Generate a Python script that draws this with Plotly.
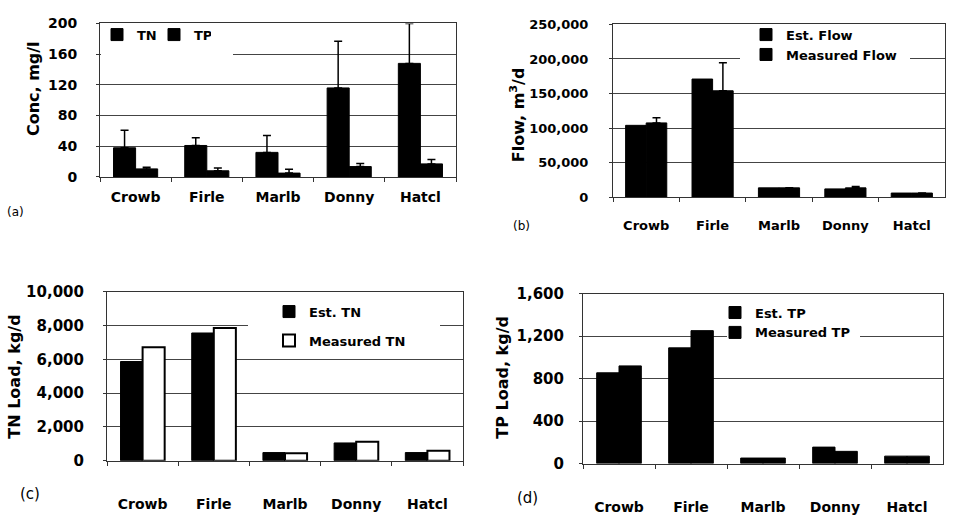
import plotly.graph_objects as go

sites = ["Crowb", "Firle", "Marlb", "Donny", "Hatcl"]

# (a) concentrations, mg/l
tn_conc = [38, 41, 32, 116, 148]
tn_conc_err = [23, 10, 22, 61, 52]
tp_conc = [10.5, 8, 5, 13.5, 17]
tp_conc_err = [2, 3.5, 5, 4, 5.6]

# (b) flow, m3/d
flow_est = [104000, 171000, 13500, 12000, 6000]
flow_meas = [107500, 154000, 13500, 13500, 6000]
flow_meas_err = [7500, 40500, 0, 2000, 0]

# (c) TN load, kg/d
tn_load_est = [5870, 7560, 480, 1050, 480]
tn_load_meas = [6720, 7850, 440, 1120, 590]

# (d) TP load, kg/d
tp_load_est = [855, 1090, 52, 155, 70]
tp_load_meas = [920, 1252, 52, 115, 70]

W, H = 954, 516
def px(x):
    return x / W
def py(y):
    return 1 - y / H

FONT = "DejaVu Sans"
BLACK = "black"

def err(arr):
    return dict(type="data", array=arr, arrayminus=[0] * len(arr), symmetric=False,
                color=BLACK, thickness=1.5, width=4)

fig = go.Figure()
bar_line = dict(color=BLACK, width=1)

fig.add_bar(x=sites, y=tn_conc, name="TN", marker=dict(color=BLACK, line=bar_line),
            error_y=err(tn_conc_err), xaxis="x", yaxis="y", legend="legend")
fig.add_bar(x=sites, y=tp_conc, name="TP", marker=dict(color=BLACK, line=bar_line),
            error_y=err(tp_conc_err), xaxis="x", yaxis="y", legend="legend")

fig.add_bar(x=sites, y=flow_est, name="Est. Flow", marker=dict(color=BLACK, line=bar_line),
            xaxis="x2", yaxis="y2", legend="legend2")
fig.add_bar(x=sites, y=flow_meas, name="Measured Flow", marker=dict(color=BLACK, line=bar_line),
            error_y=err(flow_meas_err), xaxis="x2", yaxis="y2", legend="legend2")

fig.add_bar(x=sites, y=tn_load_est, name="Est. TN", marker=dict(color=BLACK, line=bar_line),
            xaxis="x3", yaxis="y3", legend="legend3", legendgroup="c1")
fig.add_bar(x=sites, y=tn_load_meas, name="Measured TN",
            marker=dict(color="white", line=dict(color=BLACK, width=2)),
            xaxis="x3", yaxis="y3", legend="legend3", legendgroup="c2")

fig.add_bar(x=sites, y=tp_load_est, name="Est. TP", marker=dict(color=BLACK, line=bar_line),
            xaxis="x4", yaxis="y4", legend="legend4")
fig.add_bar(x=sites, y=tp_load_meas, name="Measured TP", marker=dict(color=BLACK, line=bar_line),
            xaxis="x4", yaxis="y4", legend="legend4")

# panel geometry in pixels: (left, right, top, bottom)
panels = {
    "1": (100, 456, 15, 174),
    "2": (613, 945, 16, 195),
    "3": (107, 463, 293, 468),
    "4": (583, 943, 295, 471),
}
yranges = {"1": [0, 200], "2": [0, 250000], "3": [0, 10000], "4": [0, 1600]}
dticks = {"1": 40, "2": 50000, "3": 2000, "4": 400}
ytick_size = {"1": 14, "2": 13, "3": 15, "4": 15}
xtick_size = {"1": 14, "2": 13, "3": 14, "4": 14}
ystandoff = {"1": 16, "2": 18, "3": 16, "4": 12}
xstandoff = {"1": 7, "2": 16, "3": 31, "4": 31}

layout = dict(
    width=W, height=H, margin=dict(l=0, r=0, t=0, b=0),
    paper_bgcolor="white", plot_bgcolor="white",
    barmode="group", bargap=0.38, bargroupgap=0,
    font=dict(family=FONT, color=BLACK),
)
for k, (l, r, t, b) in panels.items():
    xa = "xaxis" if k == "1" else "xaxis" + k
    ya = "yaxis" if k == "1" else "yaxis" + k
    layout[xa] = dict(
        domain=[px(l), px(r)], anchor="y" if k == "1" else "y" + k,
        type="category", tickson="boundaries", ticks="outside", ticklen=4,
        tickcolor="#333", showline=True, linecolor="#333", linewidth=1, mirror=True,
        showgrid=False, ticklabelstandoff=xstandoff[k],
        tickfont=dict(family=FONT, size=xtick_size[k], color=BLACK, weight="bold"),
    )
    layout[ya] = dict(
        domain=[py(b), py(t)], anchor="x" if k == "1" else "x" + k,
        range=yranges[k], dtick=dticks[k], tickformat=",", ticks="outside", ticklen=3,
        tickcolor="#333", showline=True, linecolor="#333", linewidth=1, mirror=True,
        showgrid=True, gridcolor="#444", gridwidth=1, zeroline=False,
        ticklabelstandoff=ystandoff[k],
        tickfont=dict(family=FONT, size=ytick_size[k], color=BLACK, weight="bold"),
    )

leg_font = dict(family=FONT, size=13, color=BLACK, weight="bold")
clear = "rgba(0,0,0,0)"
layout["legend"] = dict(x=px(97), y=py(11), xanchor="left", yanchor="top",
                        orientation="h", bgcolor=clear, font=leg_font,
                        entrywidth=12, entrywidthmode="pixels")
layout["legend2"] = dict(x=px(746), y=py(11), xanchor="left", yanchor="top",
                         bgcolor=clear, font=leg_font)
layout["legend3"] = dict(x=px(269), y=py(298), xanchor="left", yanchor="top",
                         bgcolor=clear, font=leg_font, tracegroupgap=9)
layout["legend4"] = dict(x=px(715), y=py(299), xanchor="left", yanchor="top",
                         bgcolor=clear, font=leg_font)

# white legend boxes that interrupt the gridlines (they do not overlap any bar)
legend_boxes = [(101, 233, 20, 52), (740, 910, 25, 62), (248, 440, 300, 352), (727, 860, 302, 350)]
layout["shapes"] = [
    dict(type="rect", xref="paper", yref="paper", x0=px(a), x1=px(b), y0=py(d), y1=py(c),
         fillcolor="white", line=dict(width=0), layer="above")
    for a, b, c, d in legend_boxes
]

def ann(text, x, y, size, angle=0, bold=True):
    return dict(text=text, x=px(x), y=py(y), xref="paper", yref="paper",
                showarrow=False, textangle=angle, xanchor="center", yanchor="middle",
                font=dict(family=FONT, size=size, color=BLACK, weight="bold" if bold else "normal"))

layout["annotations"] = [
    ann("Conc, mg/l", 33, 83, 16, -90),
    ann("Flow, m<sup>3</sup>/d", 517, 110, 16, -90),
    ann("TN Load, kg/d", 15, 381, 16, -90),
    ann("TP Load, kg/d", 503, 382, 16, -90),
    ann("(a)", 15, 210, 12, 0, False),
    ann("(b)", 521, 225, 12, 0, False),
    ann("(c)", 30, 503, 15, 0, False),
    ann("(d)", 527, 507, 15, 0, False),
]

fig.update_layout(**layout)
fig.write_html("out.html", config={"displayModeBar": False},
               post_script="document.body.style.margin='0';")
